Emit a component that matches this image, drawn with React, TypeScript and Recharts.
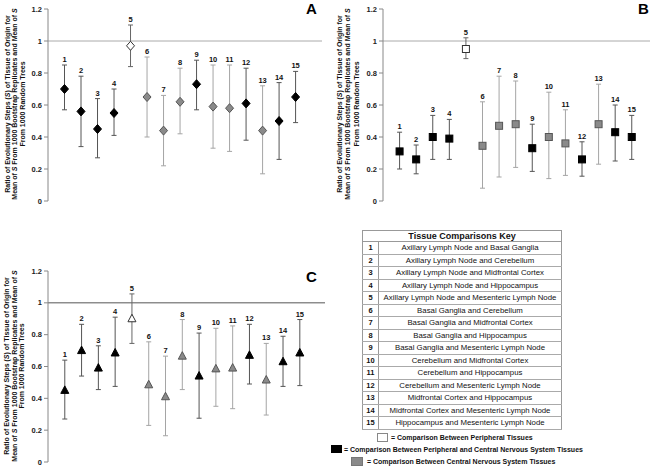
import React from 'react';
import { ScatterChart, Scatter, XAxis, YAxis, ErrorBar, ReferenceLine, LabelList } from 'recharts';

const FONT = '"Liberation Sans", Arial, sans-serif';

// comparison numbers 1..15 and their tissue group
const ids = [1, 2, 3, 4, 5, 6, 7, 8, 9, 10, 11, 12, 13, 14, 15];
const groups = ['mixed', 'mixed', 'mixed', 'mixed', 'peripheral', 'cns', 'cns', 'cns', 'mixed', 'cns', 'cns', 'mixed', 'cns', 'mixed', 'mixed'];

// panel A (diamonds)
const meanA = [0.70, 0.56, 0.45, 0.55, 0.97, 0.65, 0.44, 0.62, 0.73, 0.59, 0.58, 0.61, 0.44, 0.50, 0.65];
const lowA = [0.57, 0.34, 0.27, 0.41, 0.84, 0.40, 0.22, 0.42, 0.57, 0.33, 0.31, 0.38, 0.17, 0.26, 0.49];
const highA = [0.85, 0.78, 0.64, 0.70, 1.10, 0.90, 0.66, 0.83, 0.88, 0.85, 0.85, 0.83, 0.72, 0.74, 0.81];

// panel B (squares)
const meanB = [0.31, 0.26, 0.40, 0.39, 0.95, 0.345, 0.47, 0.48, 0.33, 0.40, 0.36, 0.26, 0.48, 0.43, 0.40];
const lowB = [0.20, 0.17, 0.26, 0.26, 0.89, 0.08, 0.15, 0.21, 0.185, 0.14, 0.16, 0.155, 0.23, 0.25, 0.26];
const highB = [0.43, 0.35, 0.535, 0.51, 1.02, 0.62, 0.78, 0.75, 0.48, 0.68, 0.57, 0.37, 0.73, 0.60, 0.535];

// panel C (triangles)
const meanC = [0.45, 0.70, 0.59, 0.685, 0.90, 0.485, 0.41, 0.665, 0.54, 0.585, 0.59, 0.67, 0.515, 0.63, 0.685];
const lowC = [0.27, 0.54, 0.455, 0.475, 0.745, 0.23, 0.165, 0.455, 0.275, 0.35, 0.335, 0.49, 0.295, 0.475, 0.48];
const highC = [0.64, 0.865, 0.73, 0.91, 1.056, 0.755, 0.665, 0.895, 0.81, 0.84, 0.855, 0.865, 0.745, 0.79, 0.895];

const yTicks = [0, 0.2, 0.4, 0.6, 0.8, 1, 1.2];

const keyRows = [
  'Axillary Lymph Node and Basal Ganglia',
  'Axillary Lymph Node and Cerebellum',
  'Axillary Lymph Node and Midfrontal Cortex',
  'Axillary Lymph Node and Hippocampus',
  'Axillary Lymph Node and Mesenteric Lymph Node',
  'Basal Ganglia and Cerebellum',
  'Basal Ganglia and Midfrontal Cortex',
  'Basal Ganglia and Hippocampus',
  'Basal Ganglia and Mesenteric Lymph Node',
  'Cerebellum and Midfrontal Cortex',
  'Cerebellum and Hippocampus',
  'Cerebellum and Mesenteric Lymph Node',
  'Midfrontal Cortex and Hippocampus',
  'Midfrontal Cortex and Mesenteric Lymph Node',
  'Hippocampus and Mesenteric Lymph Node',
];

const groupStyle: Record<string, { fill: string; stroke: string; bar: string }> = {
  peripheral: { fill: '#ffffff', stroke: '#333333', bar: '#666666' },
  mixed: { fill: '#000000', stroke: '#000000', bar: '#555555' },
  cns: { fill: '#8a8a8a', stroke: '#555555', bar: '#a5a5a5' },
};

function Marker(props: any) {
  const { cx, cy, kind, fill, stroke } = props;
  if (cx == null || cy == null) return null;
  if (kind === 'diamond') {
    const pts = `${cx},${cy - 4.5} ${cx + 4},${cy} ${cx},${cy + 4.5} ${cx - 4},${cy}`;
    return <polygon points={pts} fill={fill} stroke={stroke} strokeWidth={1} />;
  }
  if (kind === 'square') {
    return <rect x={cx - 3.5} y={cy - 3.5} width={7} height={7} fill={fill} stroke={stroke} strokeWidth={1} />;
  }
  const pts = `${cx},${cy - 4.5} ${cx + 4},${cy + 3} ${cx - 4},${cy + 3}`;
  return <polygon points={pts} fill={fill} stroke={stroke} strokeWidth={1} />;
}

function NumLabel(props: any) {
  const { x, y, width, height, value } = props;
  const cx = Number(x) + (Number(width) || 0) / 2;
  const cy = Number(y) + (Number(height) || 0) / 2;
  return (
    <text x={cx} y={cy - 3} textAnchor="middle" fontSize={7.5} fontWeight="bold" fill="#111" fontFamily={FONT}>
      {value}
    </text>
  );
}

interface PanelProps {
  mean: number[];
  low: number[];
  high: number[];
  kind: string;
  left: number;
  top: number;
  height: number;
  axisWidth: number;
  margin: { top: number; right: number; bottom: number; left: number };
  xMax: number;
  refColor: string;
}

function Panel({ mean, low, high, kind, left, top, height, axisWidth, margin, xMax, refColor }: PanelProps) {
  const rows = ids.map((id, i) => ({
    x: id,
    y: mean[i],
    err: [mean[i] - low[i], high[i] - mean[i]],
    group: groups[i],
  }));
  const tops = ids.map((id, i) => ({ x: id, y: high[i], id }));

  return (
    <div style={{ position: 'absolute', left, top }}>
      <ScatterChart width={325} height={height} margin={margin}>
        <XAxis type="number" dataKey="x" domain={[0, xMax]} hide />
        <YAxis
          type="number"
          dataKey="y"
          domain={[0, 1.2]}
          ticks={yTicks}
          width={axisWidth}
          tickSize={4}
          tickMargin={2}
          axisLine={{ stroke: '#888' }}
          tickLine={{ stroke: '#888' }}
          tick={{ fontSize: 7.5, fontWeight: 'bold', fill: '#222', fontFamily: FONT }}
        />
        <ReferenceLine y={1} stroke={refColor} strokeWidth={1} />
        {['mixed', 'cns', 'peripheral'].map((g) => (
          <Scatter
            key={g}
            data={rows.filter((r) => r.group === g)}
            isAnimationActive={false}
            shape={(p: any) => <Marker {...p} kind={kind} fill={groupStyle[g].fill} stroke={groupStyle[g].stroke} />}
          >
            <ErrorBar dataKey="err" direction="y" width={2.5} stroke={groupStyle[g].bar} strokeWidth={1} />
          </Scatter>
        ))}
        <Scatter data={tops} isAnimationActive={false} shape={() => <g />}>
          <LabelList dataKey="id" content={<NumLabel />} />
        </Scatter>
      </ScatterChart>
    </div>
  );
}

function AxisTitle({ xs, cy }: { xs: number[]; cy: number }) {
  const common = { fontSize: 7, fontWeight: 'bold' as const, fill: '#111', fontFamily: FONT, textAnchor: 'middle' as const };
  return (
    <g>
      <text {...common} transform={`translate(${xs[0]},${cy}) rotate(-90)`} dy="0.35em">
        Ratio of Evolutionary Steps (<tspan fontStyle="italic">S</tspan>) of Tissue of Origin for
      </text>
      <text {...common} transform={`translate(${xs[1]},${cy}) rotate(-90)`} dy="0.35em">
        Mean of <tspan fontStyle="italic">S</tspan> From 1000 Bootstrap Replicates and Mean of <tspan fontStyle="italic">S</tspan>
      </text>
      <text {...common} transform={`translate(${xs[2]},${cy}) rotate(-90)`} dy="0.35em">
        From 1000 Random Trees
      </text>
    </g>
  );
}

const cellNum: React.CSSProperties = {
  width: 15,
  borderRight: '1px solid #999',
  borderBottom: '1px solid #aaa',
  fontWeight: 'bold',
  fontSize: 7.5,
  textAlign: 'center',
  padding: 0,
};
const cellText: React.CSSProperties = {
  borderBottom: '1px solid #aaa',
  fontSize: 7.8,
  textAlign: 'center',
  padding: 0,
  whiteSpace: 'nowrap',
  lineHeight: '11px',
};
const legendText: React.CSSProperties = {
  position: 'absolute',
  fontSize: 7,
  fontWeight: 'bold',
  lineHeight: '9px',
  whiteSpace: 'nowrap',
  color: '#111',
};

export default function App() {
  return (
    <div style={{ position: 'absolute', left: 0, top: 0, width: 650, height: 474, background: '#fff', fontFamily: FONT, overflow: 'hidden' }}>
      <Panel mean={meanA} low={lowA} high={highA} kind="diamond" left={0} top={0} height={215} axisWidth={48}
        margin={{ top: 9, right: 3, bottom: 14, left: 0 }} xMax={16.6} refColor="#aaaaaa" />
      <Panel mean={meanB} low={lowB} high={highB} kind="square" left={325} top={0} height={215} axisWidth={58}
        margin={{ top: 9, right: 0, bottom: 14, left: 0 }} xMax={16.1} refColor="#aaaaaa" />
      <Panel mean={meanC} low={lowC} high={highC} kind="triangle" left={0} top={237} height={237} axisWidth={48}
        margin={{ top: 34, right: 0, bottom: 12, left: 0 }} xMax={16.5} refColor="#555555" />

      <svg width={650} height={474} style={{ position: 'absolute', left: 0, top: 0, pointerEvents: 'none' }}>
        <AxisTitle xs={[7.5, 15, 22.3]} cy={104} />
        <AxisTitle xs={[340, 348, 357]} cy={104} />
        <AxisTitle xs={[7, 14.5, 21.8]} cy={366} />
        <text x={306} y={14} fontSize={15} fontWeight="bold" fontFamily={FONT} fill="#000">A</text>
        <text x={638} y={14} fontSize={15} fontWeight="bold" fontFamily={FONT} fill="#000">B</text>
        <text x={306} y={282} fontSize={15} fontWeight="bold" fontFamily={FONT} fill="#000">C</text>
      </svg>

      <table
        style={{
          position: 'absolute',
          left: 362,
          top: 230,
          width: 200,
          borderCollapse: 'collapse',
          border: '1px solid #999',
          fontFamily: FONT,
          color: '#111',
        }}
      >
        <tbody>
          <tr style={{ height: 10.5 }}>
            <td colSpan={2} style={{ fontSize: 9, fontWeight: 'bold', textAlign: 'center', padding: 0, lineHeight: '10px', borderBottom: '1px solid #999' }}>
              Tissue Comparisons Key
            </td>
          </tr>
          {keyRows.map((label, i) => (
            <tr key={ids[i]} style={{ height: 12.5 }}>
              <td style={cellNum}>{ids[i]}</td>
              <td style={cellText}>{label}</td>
            </tr>
          ))}
        </tbody>
      </table>

      <div style={{ position: 'absolute', left: 377, top: 433, width: 9, height: 7, border: '1px solid #888', background: '#fff' }} />
      <div style={{ ...legendText, left: 391, top: 433 }}>= Comparison Between Peripheral Tissues</div>
      <div style={{ position: 'absolute', left: 331, top: 445, width: 11, height: 8, background: '#000' }} />
      <div style={{ ...legendText, left: 344, top: 445 }}>= Comparison Between Peripheral and Central Nervous System Tissues</div>
      <div style={{ position: 'absolute', left: 351, top: 457, width: 10, height: 7, border: '1px solid #777', background: '#8a8a8a' }} />
      <div style={{ ...legendText, left: 367, top: 457 }}>= Comparison Between Central Nervous System Tissues</div>
    </div>
  );
}
